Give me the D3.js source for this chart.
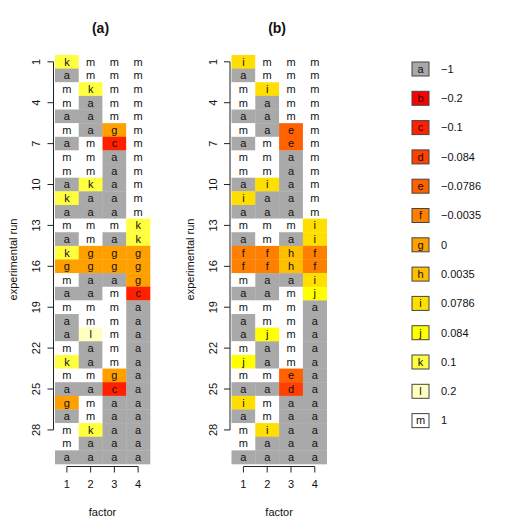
<!DOCTYPE html>
<html>
<head>
<meta charset="utf-8">
<script src="https://cdn.jsdelivr.net/npm/d3@7"></script>
<style>
  body { margin: 0; background: #fff; }
  svg text { font-family: "Liberation Sans", Arial, sans-serif; fill: #111; }
</style>
</head>
<body>
<svg id="mainSVG" width="532" height="532"></svg>
<script>
var $svg = d3.select("#mainSVG");

// Data: one string per experimental run, one letter per factor
var runs = d3.range(1, 31);
var factors = [1, 2, 3, 4];
var runTicks = [1, 4, 7, 10, 13, 16, 19, 22, 25, 28];

var panelA = [
  "kmmm","ammm","mkmm","mamm","aamm","magm","amcm","mmam","mmam","akam",
  "kaam","aaam","mmmk","amak","kggg","gggg","maag","aamc","mmma","amma",
  "alma","mama","kama","mmga","aaca","gmaa","amaa","mkaa","maaa","aaaa"
];
var panelB = [
  "immm","ammm","mimm","mamm","aamm","maem","amem","mmam","mmam","aiam",
  "iaam","aaam","mmmi","amai","ffhf","ffhf","maai","aamj","mmma","amma",
  "ajma","mama","jama","mmea","aada","imaa","amaa","miaa","maaa","aaaa"
];

var codes = ["a","b","c","d","e","f","g","h","i","j","k","l","m"];
var codeLabels = ["\u22121","\u22120.2","\u22120.1","\u22120.084","\u22120.0786","\u22120.0035",
  "0","0.0035","0.0786","0.084","0.1","0.2","1"];
var codeColors = ["#a9a9a9","#ff0000","#ff2000","#ff4000","#ff6000","#ff8000",
  "#ff9f00","#ffbf00","#ffdf00","#ffff00","#ffff40","#ffffbf","#ffffff"];

var color = d3.scaleOrdinal().domain(codes).range(codeColors);

var y = d3.scaleBand().domain(runs).range([55, 464]).padding(0);

var panels = [
  {title: "(a)", rows: panelA, x0: 55, x1: 150},
  {title: "(b)", rows: panelB, x0: 231.5, x1: 326.7}
];

panels.forEach(p => {
  var x = d3.scaleBand().domain(factors).range([p.x0, p.x1]);
  var cells = [];
  p.rows.forEach((r, i) => r.split("").forEach((c, j) => cells.push({run: runs[i], f: factors[j], c: c})));

  var $g = $svg.append('g');

  $g.selectAll('rect').data(cells).enter().append('rect')
    .attr('x', d => x(d.f)).attr('y', d => y(d.run))
    .attr('width', x.bandwidth() + 0.3).attr('height', y.bandwidth() + 0.3)
    .attr('fill', d => color(d.c));

  $g.selectAll('text.cell').data(cells).enter().append('text')
    .attr('class', 'cell')
    .attr('x', d => x(d.f) + x.bandwidth() / 2)
    .attr('y', d => y(d.run) + y.bandwidth() / 2)
    .attr('dy', '0.35em')
    .attr('text-anchor', 'middle')
    .attr('font-size', 11)
    .text(d => d.c);

  // y axis, R style: line from first to last tick
  var ax = p.x0 - 1.5;
  var yc = d => y(d) + y.bandwidth() / 2;
  $g.append('line')
    .attr('x1', ax).attr('x2', ax)
    .attr('y1', yc(runTicks[0])).attr('y2', yc(runTicks[runTicks.length - 1]))
    .attr('stroke', '#222');
  $g.selectAll('line.ytick').data(runTicks).enter().append('line')
    .attr('class', 'ytick')
    .attr('x1', ax - 6).attr('x2', ax)
    .attr('y1', yc).attr('y2', yc)
    .attr('stroke', '#222');
  $g.selectAll('text.ytick').data(runTicks).enter().append('text')
    .attr('class', 'ytick')
    .attr('transform', d => `translate(${ax - 17},${yc(d)}) rotate(-90)`)
    .attr('dy', '0.35em')
    .attr('text-anchor', 'middle')
    .attr('font-size', 11)
    .text(d => d);

  // x axis
  var by = 466.5;
  var xc = d => x(d) + x.bandwidth() / 2;
  $g.append('line')
    .attr('x1', xc(factors[0])).attr('x2', xc(factors[factors.length - 1]))
    .attr('y1', by).attr('y2', by)
    .attr('stroke', '#222');
  $g.selectAll('line.xtick').data(factors).enter().append('line')
    .attr('class', 'xtick')
    .attr('x1', xc).attr('x2', xc)
    .attr('y1', by).attr('y2', by + 6)
    .attr('stroke', '#222');
  $g.selectAll('text.xtick').data(factors).enter().append('text')
    .attr('class', 'xtick')
    .attr('x', xc).attr('y', by + 18)
    .attr('dy', '0.35em')
    .attr('text-anchor', 'middle')
    .attr('font-size', 11)
    .text(d => d);

  var cx = (p.x0 + p.x1) / 2;
  $g.append('text')
    .attr('x', cx).attr('y', 512).attr('dy', '0.35em')
    .attr('text-anchor', 'middle').attr('font-size', 11)
    .text('factor');

  $g.append('text')
    .attr('transform', `translate(${ax - 40},${(y.range()[0] + y.range()[1]) / 2}) rotate(-90)`)
    .attr('dy', '0.35em')
    .attr('text-anchor', 'middle').attr('font-size', 11)
    .text('experimental run');

  $g.append('text')
    .attr('x', cx - 2).attr('y', 28).attr('dy', '0.35em')
    .attr('text-anchor', 'middle').attr('font-size', 14)
    .attr('font-weight', 'bold')
    .text(p.title);
});

// Legend
var ly = d3.scalePoint().domain(codes).range([69, 420.6]);
var $leg = $svg.append('g').attr('id', 'legend');
var $items = $leg.selectAll('g').data(codes).enter().append('g')
  .attr('transform', d => `translate(0,${ly(d)})`);

$items.append('rect')
  .attr('x', 412).attr('y', -7)
  .attr('width', 17).attr('height', 14)
  .attr('fill', d => color(d))
  .attr('stroke', '#444').attr('stroke-width', 1);
$items.append('text')
  .attr('x', 420.5).attr('dy', '0.35em')
  .attr('text-anchor', 'middle').attr('font-size', 11)
  .text(d => d);
$items.append('text')
  .attr('x', 441).attr('dy', '0.35em')
  .attr('font-size', 11)
  .text((d, i) => codeLabels[i]);
</script>
</body>
</html>
